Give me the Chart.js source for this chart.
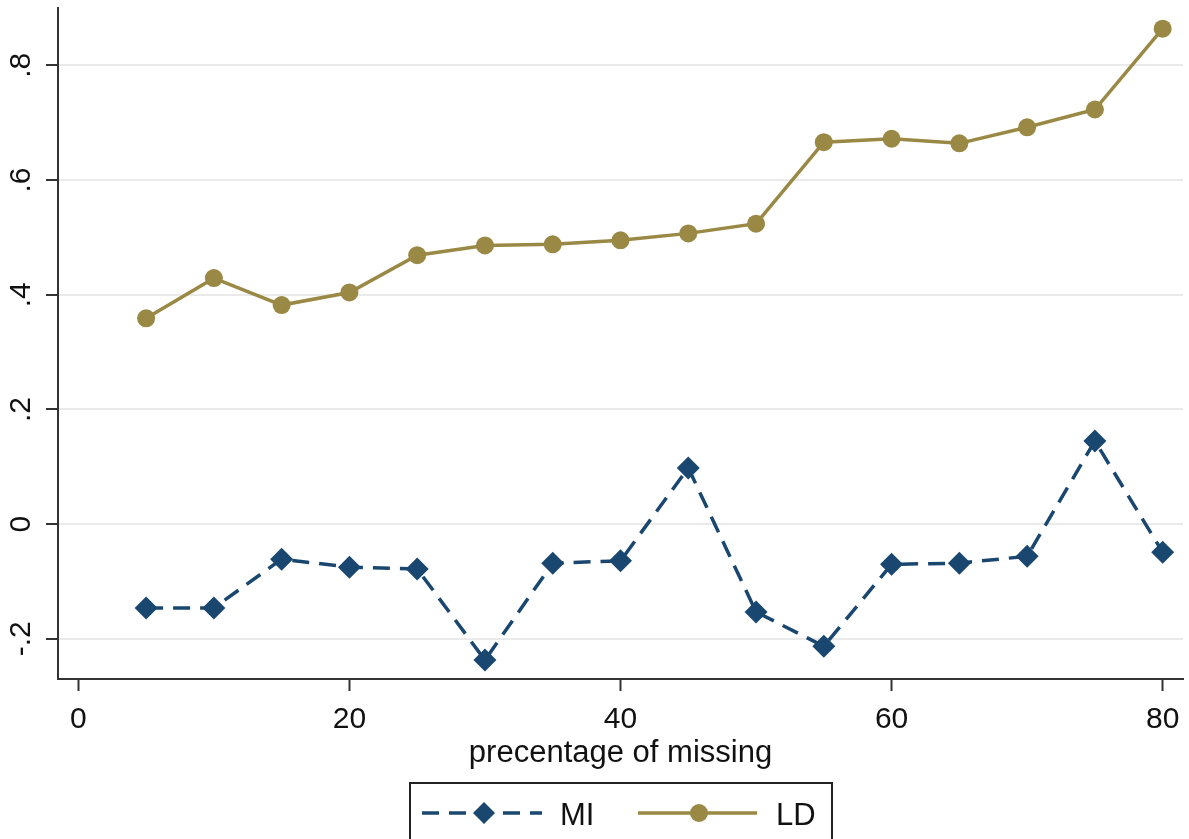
<!DOCTYPE html>
<html>
<head>
<meta charset="utf-8">
<script src="https://cdn.jsdelivr.net/npm/chart.js@4"></script>
<style>
  body { margin: 0; background: #fff; }
  canvas { display: block; }
</style>
</head>
<body>
<canvas id="chart" width="1189" height="839"></canvas>
<script>
const missingPct = [5, 10, 15, 20, 25, 30, 35, 40, 45, 50, 55, 60, 65, 70, 75, 80];
const miValues = [-0.146, -0.146, -0.061, -0.075, -0.078, -0.237, -0.068, -0.064, 0.098, -0.153, -0.213, -0.070, -0.068, -0.056, 0.145, -0.049];
const ldValues = [0.359, 0.429, 0.382, 0.404, 0.469, 0.486, 0.488, 0.495, 0.507, 0.524, 0.666, 0.672, 0.664, 0.692, 0.723, 0.864];
const xTicks = [0, 20, 40, 60, 80];
const yTicks = [-0.2, 0, 0.2, 0.4, 0.6, 0.8];
const yTickLabels = ["-.2", "0", ".2", ".4", ".6", ".8"];
const xTitle = "precentage of missing";
const seriesNames = ["MI", "LD"];

const NAVY = "#1a476f";
const KHAKI = "#9a8845";
const FONT = "'Liberation Sans', Arial, sans-serif";

function toPoints(values) {
  return missingPct.map((x, i) => ({ x: x, y: values[i] }));
}

// tick labels (y ones rotated, Stata style), x title and boxed legend drawn here
const stataExtras = {
  id: "stataExtras",
  afterDraw(chart) {
    const ctx = chart.ctx;
    const x = chart.scales.x;
    const y = chart.scales.y;
    const area = chart.chartArea;
    ctx.save();
    ctx.fillStyle = "#111";
    ctx.font = "30px " + FONT;
    ctx.textAlign = "center";
    ctx.textBaseline = "middle";
    yTicks.forEach((v, i) => {
      const py = y.getPixelForValue(v);
      ctx.save();
      ctx.translate(22, py);
      ctx.rotate(-Math.PI / 2);
      ctx.fillText(yTickLabels[i], 0, 0);
      ctx.restore();
    });

    ctx.textBaseline = "alphabetic";
    xTicks.forEach((v) => {
      ctx.fillText(String(v), x.getPixelForValue(v), 728);
    });

    // axis title
    ctx.font = "31px " + FONT;
    ctx.fillText(xTitle, (area.left + area.right) / 2, 762);

    // legend box
    ctx.strokeStyle = "#222";
    ctx.lineWidth = 2;
    ctx.strokeRect(410, 783, 422, 70);

    const ly = 813;
    // MI entry
    ctx.strokeStyle = NAVY;
    ctx.lineWidth = 3.5;
    ctx.setLineDash([17, 10]);
    ctx.beginPath();
    ctx.moveTo(422, ly);
    ctx.lineTo(542, ly);
    ctx.stroke();
    ctx.setLineDash([]);
    ctx.fillStyle = NAVY;
    ctx.beginPath();
    ctx.moveTo(484, ly - 11);
    ctx.lineTo(495, ly);
    ctx.lineTo(484, ly + 11);
    ctx.lineTo(473, ly);
    ctx.closePath();
    ctx.fill();

    // LD entry
    ctx.strokeStyle = KHAKI;
    ctx.beginPath();
    ctx.moveTo(638, ly);
    ctx.lineTo(757, ly);
    ctx.stroke();
    ctx.fillStyle = KHAKI;
    ctx.beginPath();
    ctx.arc(699, ly, 9, 0, Math.PI * 2);
    ctx.fill();

    ctx.fillStyle = "#111";
    ctx.textAlign = "left";
    ctx.fillText(seriesNames[0], 560, 825);
    ctx.fillText(seriesNames[1], 776, 825);
    ctx.restore();
  },
};

new Chart(document.getElementById("chart"), {
  type: "line",
  data: {
    datasets: [
      {
        label: seriesNames[0],
        data: toPoints(miValues),
        borderColor: NAVY,
        backgroundColor: NAVY,
        borderWidth: 3.5,
        borderDash: [17, 10],
        pointStyle: "rectRot",
        pointRadius: 11.5,
        pointBorderWidth: 0,
        tension: 0,
      },
      {
        label: seriesNames[1],
        data: toPoints(ldValues),
        borderColor: KHAKI,
        backgroundColor: KHAKI,
        borderWidth: 3.5,
        pointStyle: "circle",
        pointRadius: 9,
        pointBorderWidth: 0,
        tension: 0,
      },
    ],
  },
  options: {
    responsive: false,
    animation: false,
    layout: {
      autoPadding: false,
      padding: { top: 8, right: 6, left: 0, bottom: 0 },
    },
    plugins: {
      legend: { display: false },
      tooltip: { enabled: false },
    },
    scales: {
      x: {
        type: "linear",
        min: -1.5,
        max: 81.5,
        afterBuildTicks: (scale) => {
          scale.ticks = xTicks.map((v) => ({ value: v }));
        },
        afterFit: (scale) => {
          scale.height = 160;
        },
        grid: {
          drawOnChartArea: false,
          drawTicks: true,
          tickLength: 12,
          tickColor: "#333",
          tickWidth: 2,
        },
        border: { color: "#333", width: 2 },
        ticks: { display: false },
      },
      y: {
        type: "linear",
        min: -0.27,
        max: 0.9,
        afterBuildTicks: (scale) => {
          scale.ticks = yTicks.map((v) => ({ value: v }));
        },
        afterFit: (scale) => {
          scale.width = 58;
        },
        grid: {
          color: "#eaeaea",
          lineWidth: 2,
          drawTicks: true,
          tickLength: 12,
          tickColor: "#333",
          tickWidth: 2,
        },
        border: { color: "#333", width: 2 },
        ticks: { display: false },
      },
    },
  },
  plugins: [stataExtras],
});
</script>
</body>
</html>
